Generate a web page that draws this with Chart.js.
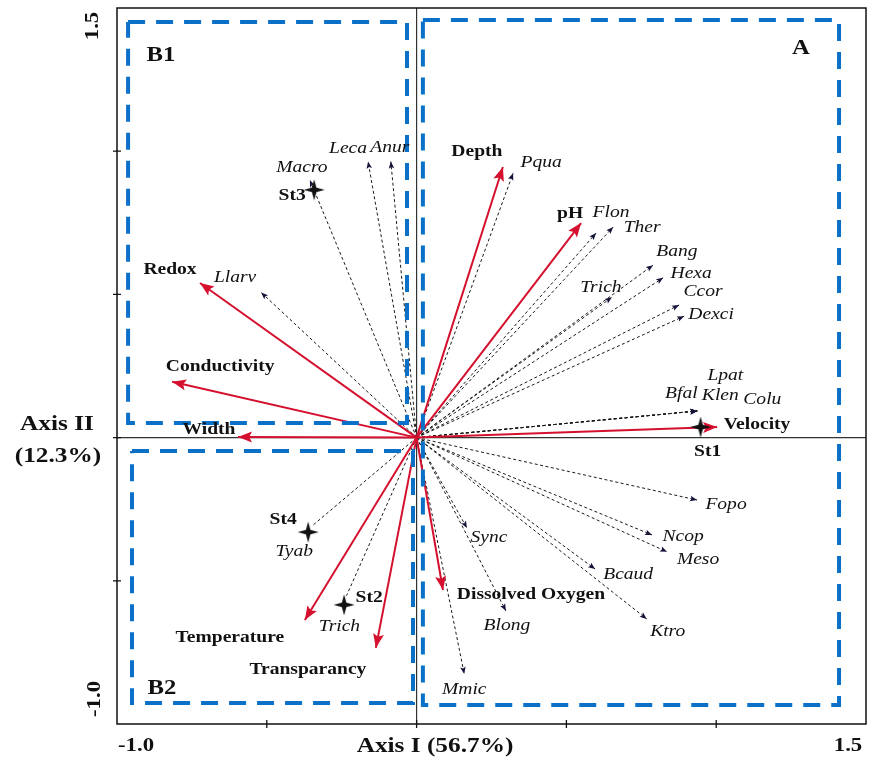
<!DOCTYPE html>
<html><head><meta charset="utf-8">
<script src="https://cdn.jsdelivr.net/npm/chart.js@4.4.0/dist/chart.umd.min.js"></script>
<style>html,body{margin:0;padding:0;background:#fff;} canvas{display:block;}</style>
</head><body>
<canvas id="c" width="869" height="763"></canvas>
<script>
// ---------------- data ----------------
const axisMin = -1.0, axisMax = 1.5;
const xTickLabels = ['-1.0', '1.5'];
const yTickLabels = ['-1.0', '1.5'];
const tickValues = [-0.5, 0, 0.5, 1.0];
const axisTitleX = 'Axis I (56.7%)';
const axisTitleY = ['Axis II', '(12.3%)'];

const envNames = ['Depth', 'pH', 'Redox', 'Conductivity', 'Width', 'Velocity', 'Temperature', 'Transparancy', 'Dissolved Oxygen'];
const envX = [0.288, 0.549, -0.723, -0.816, -0.596, 1.003, -0.373, -0.136, 0.088];
const envY = [0.945, 0.749, 0.540, 0.195, 0.002, 0.037, -0.637, -0.734, -0.532];

const speciesNames = ['Macro', 'Leca', 'Anur', 'Pqua', 'Flon', 'Ther', 'Bang', 'Hexa', 'Trich', 'Ccor', 'Dexci',
  'Lpat', 'Bfal', 'Klen', 'Colu', 'Llarv', 'Fopo', 'Ncop', 'Meso', 'Bcaud', 'Ktro', 'Sync', 'Blong', 'Mmic', 'Tyab', 'Trich'];
const speciesX = [-0.356, -0.162, -0.086, 0.322, 0.599, 0.656, 0.789, 0.823, 0.652, 0.876, 0.893,
  0.937, 0.937, 0.937, 0.937, -0.519, 0.936, 0.786, 0.836, 0.596, 0.768, 0.168, 0.298, 0.159, -0.345, -0.234];
const speciesY = [0.899, 0.964, 0.964, 0.923, 0.714, 0.735, 0.602, 0.558, 0.490, 0.463, 0.424,
  0.093, 0.093, 0.093, 0.093, 0.507, -0.218, -0.340, -0.399, -0.459, -0.633, -0.316, -0.605, -0.825, -0.305, -0.552];

const stationNames = ['St1', 'St2', 'St3', 'St4'];
const stationX = [0.948, -0.242, -0.342, -0.362];
const stationY = [0.037, -0.584, 0.865, -0.330];

const groupNames = ['A', 'B1', 'B2'];
const groupXMin = [0.021, -0.963, -0.950];
const groupXMax = [1.410, -0.032, -0.012];
const groupYMin = [-0.934, 0.051, -0.927];
const groupYMax = [1.458, 1.451, -0.047];

// ---------------- styles / label placement (pixels) ----------------
const envLabelOffset = [[-26,-15],[-11,-9],[-30,-13],[48,-15],[-29,-7],[40,-2],[-75,18],[-68,22],[88,5]];
const speciesLabelOffset = [[-8,-13],[-20,-13],[-1,-14],[28,-11],[15,-21],[29,0],[24,-14],[28,-4],[-11,-10],[24,-13],[27,-2],
  [28,-35],[-16,-17],[23,-15],[65,-11],[-26,-15],[29,4],[31,2],[31,8],[33,5],[21,13],[22,9],[1,15],[0,16],[-19,27],[-7,31]];
const speciesHead = speciesNames.map((n, i) => i < 24);
const stationLabelOffset = [[7,25],[25,-7],[-22,6],[-25,-13]];
const groupLabelPos = [[801,48],[161,55],[162,688]];

const RED = '#D5102E', BLUE = '#0B70C8', DARK = '#1a1a1a';
const SERIF = '"Liberation Serif", "Times New Roman", serif';

// 4-point star marker
function makeStar() {
  const c = document.createElement('canvas');
  c.width = 24; c.height = 24;
  const g = c.getContext('2d');
  g.translate(12, 12);
  g.beginPath();
  const R = 10.5, r = 3.2;
  for (let k = 0; k < 8; k++) {
    const a = -Math.PI / 2 + k * Math.PI / 4;
    const rad = k % 2 === 0 ? R : r;
    const px = rad * Math.cos(a), py = rad * Math.sin(a);
    if (k === 0) g.moveTo(px, py); else g.lineTo(px, py);
  }
  g.closePath();
  g.fillStyle = '#111';
  g.fill();
  return c;
}
const star = makeStar();

// ---------------- datasets ----------------
const datasets = [];
groupNames.forEach((n, i) => {
  datasets.push({
    label: 'group ' + n,
    data: [
      {x: groupXMin[i], y: groupYMax[i]}, {x: groupXMax[i], y: groupYMax[i]},
      {x: groupXMax[i], y: groupYMin[i]}, {x: groupXMin[i], y: groupYMin[i]},
      {x: groupXMin[i], y: groupYMax[i]}
    ],
    showLine: true, borderColor: BLUE, borderWidth: 4, borderDash: [17, 11],
    pointRadius: 0, order: 0
  });
});
datasets.push({
  label: 'stations',
  data: stationNames.map((n, i) => ({x: stationX[i], y: stationY[i]})),
  pointStyle: star, pointRadius: 10, order: 1
});
envNames.forEach((n, i) => {
  datasets.push({
    label: n, data: [{x: 0, y: 0}, {x: envX[i], y: envY[i]}],
    showLine: true, borderColor: RED, borderWidth: 2, pointRadius: 0, order: 2,
    head: 'red'
  });
});
speciesNames.forEach((n, i) => {
  datasets.push({
    label: n, data: [{x: 0, y: 0}, {x: speciesX[i], y: speciesY[i]}],
    showLine: true, borderColor: DARK, borderWidth: 1, borderDash: [3, 2.5], pointRadius: 0, order: 3,
    head: speciesHead[i] ? 'black' : null
  });
});

function drawText(ctx, text, x, y, font, sx) {
  ctx.save();
  ctx.translate(x, y);
  ctx.scale(sx || 1, 1);
  ctx.font = font;
  ctx.textAlign = 'center';
  ctx.textBaseline = 'middle';
  ctx.fillStyle = '#111';
  ctx.fillText(text, 0, 0);
  ctx.restore();
}

const biplotPlugin = {
  id: 'biplot',
  beforeDatasetsDraw(chart) {
    const ctx = chart.ctx, a = chart.chartArea;
    const xs = chart.scales.x, ys = chart.scales.y;
    const x0 = xs.getPixelForValue(0), y0 = ys.getPixelForValue(0);
    ctx.save();
    ctx.strokeStyle = '#333';
    ctx.lineWidth = 1.2;
    ctx.beginPath();
    ctx.moveTo(a.left, y0); ctx.lineTo(a.right, y0);
    ctx.moveTo(x0, a.top); ctx.lineTo(x0, a.bottom);
    ctx.stroke();
    ctx.restore();
  },
  afterDatasetDraw(chart, args) {
    const ds = chart.data.datasets[args.index];
    if (!ds.head) return;
    const pts = args.meta.data;
    const p0 = pts[0], p1 = pts[pts.length - 1];
    const ang = Math.atan2(p1.y - p0.y, p1.x - p0.x);
    const L = ds.head === 'red' ? 14 : 7;
    const W = ds.head === 'red' ? 5.5 : 2.8;
    const ctx = chart.ctx;
    ctx.save();
    ctx.translate(p1.x, p1.y);
    ctx.rotate(ang);
    ctx.beginPath();
    ctx.moveTo(0, 0);
    ctx.lineTo(-L, -W);
    ctx.lineTo(-L * 0.8, 0);
    ctx.lineTo(-L, W);
    ctx.closePath();
    ctx.fillStyle = ds.head === 'red' ? RED : '#14143a';
    ctx.fill();
    ctx.restore();
  },
  afterDraw(chart) {
    const ctx = chart.ctx, a = chart.chartArea;
    const xs = chart.scales.x, ys = chart.scales.y;
    // frame
    ctx.save();
    ctx.strokeStyle = '#111';
    ctx.lineWidth = 1.5;
    ctx.strokeRect(a.left, a.top, a.right - a.left, a.bottom - a.top);
    // ticks
    ctx.lineWidth = 1.3;
    ctx.beginPath();
    tickValues.forEach(v => {
      const px = xs.getPixelForValue(v);
      ctx.moveTo(px, a.bottom - 4); ctx.lineTo(px, a.bottom + 4);
      const py = ys.getPixelForValue(v);
      ctx.moveTo(a.left - 4, py); ctx.lineTo(a.left + 4, py);
    });
    ctx.stroke();
    ctx.restore();

    const bold = s => 'bold ' + s + 'px ' + SERIF;
    const ital = s => 'italic ' + s + 'px ' + SERIF;
    // tick labels
    drawText(ctx, xTickLabels[0], xs.getPixelForValue(axisMin) + 19, a.bottom + 22, bold(19), 1.2);
    drawText(ctx, xTickLabels[1], xs.getPixelForValue(axisMax) - 18, a.bottom + 22, bold(19), 1.2);
    ctx.save(); ctx.translate(a.left - 24, ys.getPixelForValue(axisMax) + 18); ctx.rotate(-Math.PI / 2);
    drawText(ctx, yTickLabels[1], 0, 0, bold(19), 1.2); ctx.restore();
    ctx.save(); ctx.translate(a.left - 22, ys.getPixelForValue(axisMin) - 25); ctx.rotate(-Math.PI / 2);
    drawText(ctx, yTickLabels[0], 0, 0, bold(19), 1.2); ctx.restore();
    // axis titles
    drawText(ctx, axisTitleX, 435, a.bottom + 22, bold(22), 1.15);
    drawText(ctx, axisTitleY[0], 57, 424, bold(22), 1.15);
    drawText(ctx, axisTitleY[1], 58, 456, bold(22), 1.15);
    // group labels
    groupNames.forEach((n, i) => drawText(ctx, n, groupLabelPos[i][0], groupLabelPos[i][1], bold(22), 1.12));
    // env labels
    envNames.forEach((n, i) => {
      const px = xs.getPixelForValue(envX[i]) + envLabelOffset[i][0];
      const py = ys.getPixelForValue(envY[i]) + envLabelOffset[i][1];
      drawText(ctx, n, px, py, bold(17), 1.15);
    });
    // species labels
    speciesNames.forEach((n, i) => {
      const px = xs.getPixelForValue(speciesX[i]) + speciesLabelOffset[i][0];
      const py = ys.getPixelForValue(speciesY[i]) + speciesLabelOffset[i][1];
      drawText(ctx, n, px, py, ital(17), 1.15);
    });
    // station labels
    stationNames.forEach((n, i) => {
      const px = xs.getPixelForValue(stationX[i]) + stationLabelOffset[i][0];
      const py = ys.getPixelForValue(stationY[i]) + stationLabelOffset[i][1];
      drawText(ctx, n, px, py, bold(17), 1.15);
    });
  }
};

new Chart(document.getElementById('c'), {
  type: 'scatter',
  data: { datasets },
  options: {
    responsive: false,
    animation: false,
    events: [],
    layout: { autoPadding: false, padding: { left: 117, right: 3, top: 8, bottom: 39 } },
    scales: {
      x: { type: 'linear', min: axisMin, max: axisMax, display: false },
      y: { type: 'linear', min: axisMin, max: axisMax, display: false }
    },
    plugins: { legend: { display: false }, tooltip: { enabled: false } }
  },
  plugins: [biplotPlugin]
});
</script>
</body></html>
